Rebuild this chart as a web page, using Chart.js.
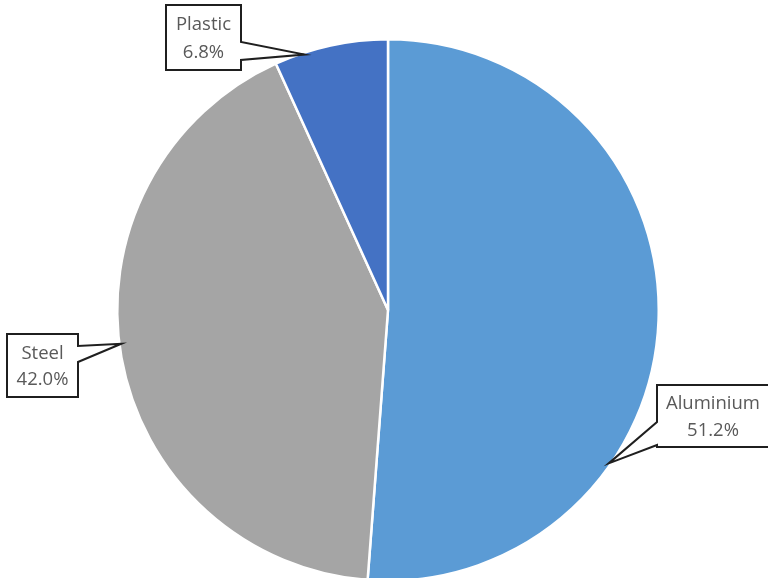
<!DOCTYPE html>
<html>
<head>
<meta charset="utf-8">
<script src="https://cdn.jsdelivr.net/npm/chart.js@4"></script>
<style>
  html, body { margin: 0; padding: 0; background: #fff; overflow: hidden; }
  #wrap { width: 768px; height: 578px; position: relative; overflow: hidden; }
</style>
</head>
<body>
<div id="wrap"><canvas id="c" width="768" height="582"></canvas></div>
<script>
const categories = ["Aluminium", "Steel", "Plastic"];
const values = [51.2, 42.0, 6.8];
const colors = ["#5B9BD5", "#A5A5A5", "#4472C4"];

// callout layout: box rect and tip angle (degrees clockwise from 12 o'clock)
const callouts = [
  { box: [657, 385, 112, 62], side: "left",  base: [422, 445], tipAngle: 124.8 },
  { box: [7, 334, 71, 63],    side: "right", base: [346, 362], tipAngle: 262.8 },
  { box: [166, 5, 75, 65],    side: "right", base: [42, 60],   tipAngle: 341.9 }
];

const calloutPlugin = {
  id: "callouts",
  afterDatasetsDraw(chart) {
    const ctx = chart.ctx;
    const meta = chart.getDatasetMeta(0);
    ctx.save();
    meta.data.forEach((arc, i) => {
      const c = callouts[i];
      const a = c.tipAngle * Math.PI / 180;
      const r = arc.outerRadius - 2;
      const tx = arc.x + r * Math.sin(a);
      const ty = arc.y - r * Math.cos(a);
      const [bx, by, bw, bh] = c.box;
      ctx.beginPath();
      if (c.side === "left") {
        ctx.moveTo(bx, by);
        ctx.lineTo(bx + bw, by);
        ctx.lineTo(bx + bw, by + bh);
        ctx.lineTo(bx, by + bh);
        ctx.lineTo(bx, c.base[1]);
        ctx.lineTo(tx, ty);
        ctx.lineTo(bx, c.base[0]);
        ctx.closePath();
      } else {
        ctx.moveTo(bx, by);
        ctx.lineTo(bx + bw, by);
        ctx.lineTo(bx + bw, c.base[0]);
        ctx.lineTo(tx, ty);
        ctx.lineTo(bx + bw, c.base[1]);
        ctx.lineTo(bx + bw, by + bh);
        ctx.lineTo(bx, by + bh);
        ctx.closePath();
      }
      ctx.fillStyle = "#ffffff";
      ctx.fill();
      ctx.lineWidth = 2;
      ctx.strokeStyle = "#1f1f1f";
      ctx.lineJoin = "miter";
      ctx.stroke();
      ctx.fillStyle = "#595959";
      ctx.font = "18.5px 'Open Sans'";
      ctx.textAlign = "center";
      ctx.textBaseline = "middle";
      const cx = bx + bw / 2;
      ctx.fillText(categories[i], cx, by + bh * 0.31);
      ctx.fillText(values[i].toFixed(1) + "%", cx, by + bh * 0.73);
    });
    ctx.restore();
  }
};

new Chart(document.getElementById("c"), {
  type: "pie",
  data: {
    labels: categories,
    datasets: [{
      data: values,
      backgroundColor: colors,
      borderColor: "#ffffff",
      borderWidth: 2.5
    }]
  },
  options: {
    responsive: false,
    animation: false,
    rotation: 0,
    layout: { padding: { top: 38, bottom: 0, left: 8, right: 0 } },
    plugins: {
      legend: { display: false },
      tooltip: { enabled: false }
    }
  },
  plugins: [calloutPlugin]
});
</script>
</body>
</html>
